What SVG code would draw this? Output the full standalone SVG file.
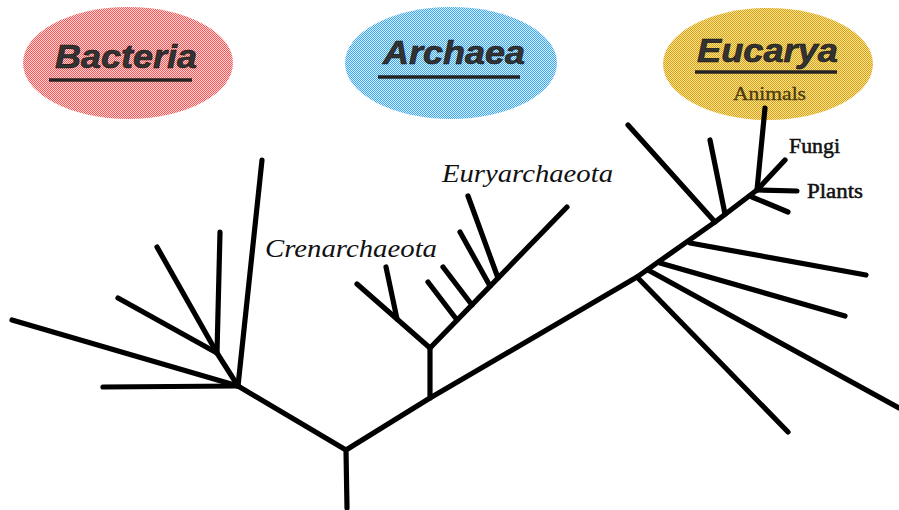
<svg xmlns="http://www.w3.org/2000/svg" width="899" height="510" viewBox="0 0 899 510">
<defs>
<pattern id="pRed" width="2" height="2" patternUnits="userSpaceOnUse"><rect width="2" height="2" fill="#ffdada"/><rect width="1" height="1" fill="#ff5252"/><rect x="1" y="1" width="1" height="1" fill="#ff5252"/></pattern>
<pattern id="pBlue" width="2" height="2" patternUnits="userSpaceOnUse"><rect width="2" height="2" fill="#d8eeff"/><rect width="1" height="1" fill="#3aa6f2"/><rect x="1" y="1" width="1" height="1" fill="#3aa6f2"/></pattern>
<pattern id="pGold" width="2" height="2" patternUnits="userSpaceOnUse"><rect width="2" height="2" fill="#f6e2a6"/><rect width="1" height="1" fill="#dca200"/><rect x="1" y="1" width="1" height="1" fill="#dca200"/></pattern>
</defs>
<style>
.dom{font-family:"Liberation Sans",Arial,sans-serif;font-style:italic;font-weight:bold;font-size:34px;fill:#333;stroke:#111;stroke-width:0.6;}
.ul{stroke:#222;stroke-width:3.5;}
.lab{font-family:"Liberation Serif","Times New Roman",serif;font-style:italic;font-size:25px;fill:#111;}
.sm{font-family:"Liberation Serif","Times New Roman",serif;font-size:20px;fill:#111;stroke:#111;stroke-width:0.5;}
.br{stroke:#000;stroke-width:5.2;stroke-linecap:round;stroke-linejoin:round;fill:none;}
</style>
<g id="bacteria">
<ellipse cx="128" cy="63" rx="105" ry="56" fill="url(#pRed)"/>
<text class="dom" x="55" y="68" textLength="142" lengthAdjust="spacingAndGlyphs">Bacteria</text>
<line class="ul" x1="49" y1="80" x2="192" y2="80"/>
</g>
<g id="archaea">
<ellipse cx="451" cy="63" rx="106" ry="56" fill="url(#pBlue)"/>
<text class="dom" x="383" y="64" textLength="142" lengthAdjust="spacingAndGlyphs">Archaea</text>
<line class="ul" x1="378" y1="77" x2="520" y2="77"/>
</g>
<g id="eucarya">
<ellipse cx="768" cy="64" rx="105" ry="56" fill="url(#pGold)"/>
<text class="dom" x="697" y="62" textLength="141" lengthAdjust="spacingAndGlyphs">Eucarya</text>
<line class="ul" x1="695" y1="72" x2="837" y2="72"/>
</g>
<g id="animals">
<text x="733" y="100" font-family="Liberation Serif,serif" font-size="19" fill="#4a3c10" stroke="#4a3c10" stroke-width="0.3" textLength="73" lengthAdjust="spacingAndGlyphs">Animals</text>
</g>
<g id="crenarchaeota">
<text class="lab" x="265" y="257" textLength="172" lengthAdjust="spacingAndGlyphs">Crenarchaeota</text>
</g>
<g id="euryarchaeota">
<text class="lab" x="442" y="182" textLength="171" lengthAdjust="spacingAndGlyphs">Euryarchaeota</text>
</g>
<g id="fungi">
<text class="sm" x="789" y="153" textLength="51" lengthAdjust="spacingAndGlyphs">Fungi</text>
</g>
<g id="plants">
<text class="sm" x="807" y="198" textLength="56" lengthAdjust="spacingAndGlyphs">Plants</text>
</g>
<g id="connectors" class="br">
<polyline class="br" points="347,508 346,450 238,386"/>
<polyline class="br" points="346,450 430,398 637,277 715,222 757,190"/>
<line class="br" x1="238" y1="386" x2="262" y2="160"/>
<line class="br" x1="238" y1="386" x2="103" y2="387"/>
<line class="br" x1="238" y1="386" x2="12" y2="320"/>
<line class="br" x1="238" y1="386" x2="217" y2="353"/>
<line class="br" x1="217" y1="353" x2="118" y2="298"/>
<line class="br" x1="217" y1="353" x2="157" y2="247"/>
<line class="br" x1="217" y1="353" x2="220" y2="232"/>
<line class="br" x1="430" y1="398" x2="430" y2="348"/>
<line class="br" x1="430" y1="348" x2="357" y2="284"/>
<line class="br" x1="397" y1="319" x2="386" y2="267"/>
<line class="br" x1="430" y1="348" x2="567" y2="207"/>
<line class="br" x1="457" y1="320" x2="428" y2="282"/>
<line class="br" x1="472" y1="305" x2="443" y2="267"/>
<line class="br" x1="490" y1="286" x2="460" y2="232"/>
<line class="br" x1="498" y1="278" x2="468" y2="196"/>
<line class="br" x1="637" y1="277" x2="788" y2="432"/>
<line class="br" x1="648" y1="270" x2="899" y2="408"/>
<line class="br" x1="660" y1="263" x2="845" y2="316"/>
<line class="br" x1="690" y1="243" x2="866" y2="275"/>
<line class="br" x1="715" y1="222" x2="628" y2="125"/>
<line class="br" x1="725" y1="214" x2="710" y2="140"/>
<line class="br" x1="757" y1="190" x2="765" y2="108"/>
<line class="br" x1="757" y1="190" x2="785" y2="160"/>
<line class="br" x1="757" y1="190" x2="797" y2="191"/>
<line class="br" x1="752" y1="197" x2="788" y2="212"/>
</g>
</svg>
